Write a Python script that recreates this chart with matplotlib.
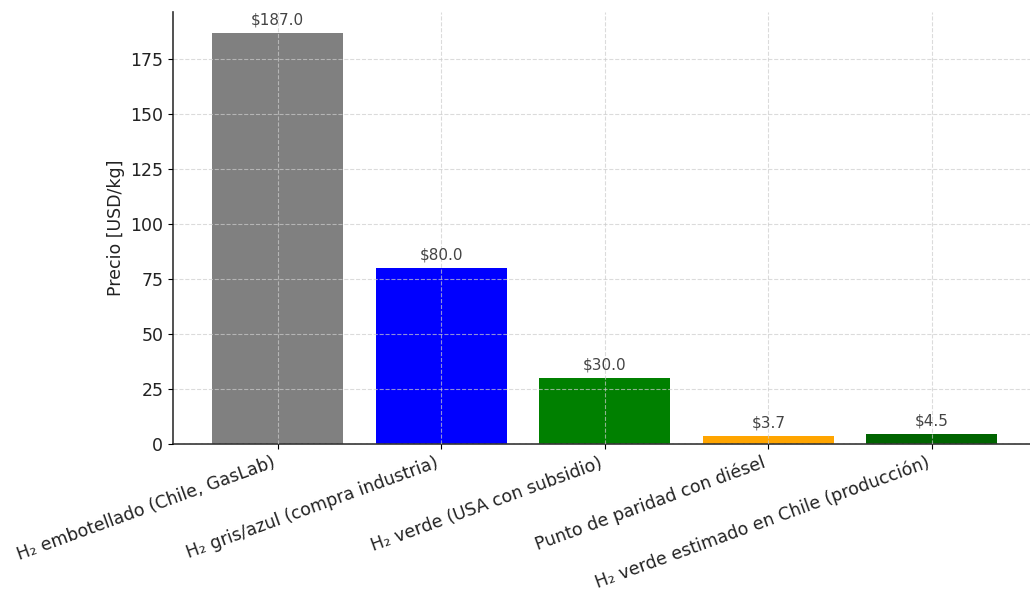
import matplotlib
matplotlib.use("Agg")
import matplotlib.pyplot as plt

categorias = [
    "H₂ embotellado (Chile, GasLab)",
    "H₂ gris/azul (compra industria)",
    "H₂ verde (USA con subsidio)",
    "Punto de paridad con diésel",
    "H₂ verde estimado en Chile (producción)",
]
precios = [187.0, 80.0, 30.0, 3.7, 4.5]
colores = ["gray", "blue", "green", "orange", "darkgreen"]

fig, ax = plt.subplots(figsize=(10.3, 5.91), dpi=100)
fig.subplots_adjust(left=173 / 1030, right=1.0, top=1 - 12 / 591, bottom=1 - 444 / 591)

x = range(len(categorias))
bars = ax.bar(x, precios, color=colores, width=0.8)

for b, v in zip(bars, precios):
    ax.text(b.get_x() + b.get_width() / 2, v + 2.5, f"${v:.1f}",
            ha="center", va="bottom", fontsize=11, color="#444444")

ax.set_xticks(list(x))
ax.set_xticklabels(categorias, rotation=20, ha="right", fontsize=12.5, color="#222222")
ax.set_ylabel("Precio [USD/kg]", fontsize=12.5, color="#222222")
ax.tick_params(axis="y", labelsize=12.5, labelcolor="#222222")
ax.set_xlim(-0.64, 4.6)
ax.set_ylim(0, 196.35)

ax.grid(True, linestyle="--", color="#cccccc", alpha=0.7, linewidth=0.8)
ax.set_axisbelow(False)
ax.spines["top"].set_visible(False)
ax.spines["right"].set_visible(False)
for s in ("left", "bottom"):
    ax.spines[s].set_linewidth(1.2)
    ax.spines[s].set_color("#333333")

fig.savefig("out.png", dpi=100)
